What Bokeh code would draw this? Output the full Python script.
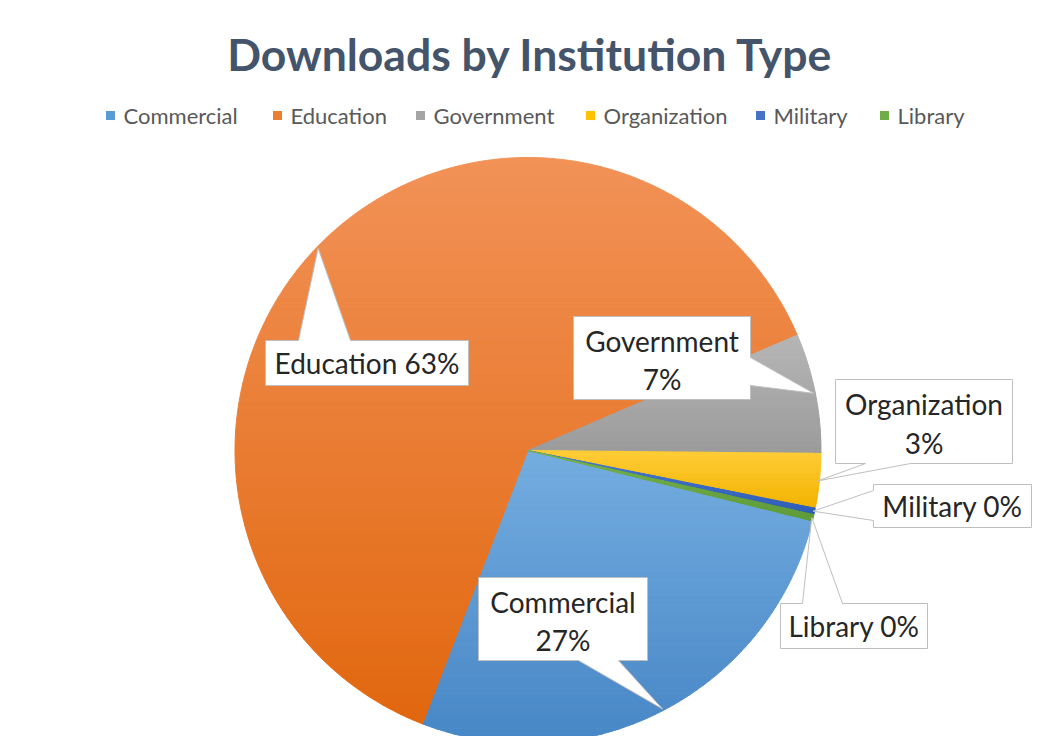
import numpy as np
from bokeh.plotting import figure
from bokeh.models import Range1d
from bokeh.core.properties import value
from bokeh.embed import file_html
from bokeh.resources import INLINE

# ---------------- data ----------------
categories = ["Commercial", "Education", "Government", "Organization", "Military", "Library"]
shares = [27.0, 62.7, 6.6, 3.0, 0.35, 0.35]
title_text = "Downloads by Institution Type"

# ---------------- styles ----------------
base_colors = ["#5B9BD5", "#ED7D31", "#A5A5A5", "#FFC000", "#4472C4", "#70AD47"]
top_colors = ["#74ADE0", "#F29257", "#B6B6B6", "#FFCD38", "#4A78CC", "#76B34C"]
bottom_colors = ["#4786C6", "#E1670F", "#9B9B9B", "#F2B300", "#2F5DB6", "#5E9A38"]

FONT = value("Lato")
PAGE_H = 740
FIG_W, FIG_H = 1036, 736


def Y(img_y):
    return PAGE_H - img_y


CX, CY, R = 527.5, Y(450), 293.0
START_DEG = -13.9  # first slice starts here and slices run clockwise

p = figure(width=FIG_W, height=FIG_H, x_range=Range1d(0, FIG_W),
           y_range=Range1d(PAGE_H - FIG_H, PAGE_H),
           output_backend="svg", toolbar_location=None, x_axis_type=None, y_axis_type=None,
           min_border=0, min_border_left=0, min_border_right=0, min_border_top=0,
           min_border_bottom=0)
p.grid.visible = False
p.outline_line_color = None
p.background_fill_color = "white"
p.border_fill_color = "white"


def clip(poly, y, keep_above):
    out = []
    n = len(poly)
    for i in range(n):
        P = poly[i]
        Q = poly[(i + 1) % n]
        inP = P[1] >= y if keep_above else P[1] <= y
        inQ = Q[1] >= y if keep_above else Q[1] <= y
        if inP:
            out.append(P)
        if inP != inQ:
            t = (y - P[1]) / (Q[1] - P[1])
            out.append((P[0] + t * (Q[0] - P[0]), y))
    return out


def mix(c1, c2, t):
    a = [int(c1[i:i + 2], 16) for i in (1, 3, 5)]
    b = [int(c2[i:i + 2], 16) for i in (1, 3, 5)]
    return "#%02x%02x%02x" % tuple(int(round(a[k] + (b[k] - a[k]) * t)) for k in range(3))


# ---------------- slices (gradient via horizontal bands) ----------------
band_xs, band_ys, band_cols = [], [], []
mid_angles = []
cum = 0.0
total = sum(shares)
for i, s in enumerate(shares):
    a0 = START_DEG - cum / total * 360.0
    a1 = a0 - s / total * 360.0
    cum += s
    mid_angles.append(np.deg2rad((a0 + a1) / 2))
    n = max(3, int(abs(a1 - a0) * 2))
    th = np.deg2rad(np.linspace(a0, a1, n))
    poly = [(CX, CY)] + [(CX + R * np.cos(t), CY + R * np.sin(t)) for t in th]
    ys_all = [q[1] for q in poly]
    ymin, ymax = min(ys_all), max(ys_all)
    nb = 60
    edges = np.linspace(ymax, ymin, nb + 1)
    for k in range(nb):
        hi, lo = edges[k], edges[k + 1]
        pc = clip(poly, lo, True)
        if len(pc) < 3:
            continue
        pc = clip(pc, hi, False)
        if len(pc) < 3:
            continue
        band_xs.append([q[0] for q in pc])
        band_ys.append([q[1] for q in pc])
        band_cols.append(mix(top_colors[i], bottom_colors[i], (k + 0.5) / nb))

p.patches(band_xs, band_ys, fill_color=band_cols, line_color=band_cols, line_width=1)

# ---------------- title ----------------
p.text(x=[530], y=[Y(53)], text=[title_text], text_font=FONT, text_font_style="bold",
       text_font_size="44.5px", text_color="#44546A", text_align="center",
       text_baseline="middle")

# ---------------- legend ----------------
legend_x = [110, 277, 420, 590, 760, 884]
legend_y = Y(115)
p.rect(x=legend_x, y=[legend_y] * 6, width=9, height=9, fill_color=base_colors,
       line_color=None)
p.text(x=[x + 13 for x in legend_x], y=[legend_y] * 6, text=categories, text_font=FONT,
       text_font_size="22px", text_color="#595959", text_align="left",
       text_baseline="middle")

# ---------------- data labels (callouts) ----------------
# box: (left, top, right, bottom) in page pixels; pointer: (edge, from, to); two_line flag
label_layout = {
    "Education": ((265, 340, 468, 385), ("top", 298, 350), False),
    "Government": ((573, 316, 750, 399), ("right", 357, 385), True),
    "Commercial": ((478, 577, 647, 660), ("bottom", 578, 618), True),
    "Organization": ((835, 379, 1012, 463), ("bottom", 865, 910), True),
    "Military": ((873, 484, 1031, 527), ("left", 490, 520), False),
    "Library": ((780, 603, 927, 648), ("top", 802, 842), False),
}

for i, cat in enumerate(categories):
    (l, t, r, b), (edge, s0, s1), two = label_layout[cat]
    ang = mid_angles[i]
    ax, ay = CX + R * 0.995 * np.cos(ang), CY + R * 0.995 * np.sin(ang)
    lt, rt, rb, lb = (l, Y(t)), (r, Y(t)), (r, Y(b)), (l, Y(b))
    apex = (ax, ay)
    if edge == "top":
        pts = [lt, (s0, Y(t)), apex, (s1, Y(t)), rt, rb, lb]
    elif edge == "right":
        pts = [lt, rt, (r, Y(s0)), apex, (r, Y(s1)), rb, lb]
    elif edge == "bottom":
        pts = [lt, rt, rb, (s1, Y(b)), apex, (s0, Y(b)), lb]
    else:
        pts = [lt, rt, rb, lb, (l, Y(s1)), apex, (l, Y(s0))]
    p.patch([q[0] for q in pts], [q[1] for q in pts], fill_color="white",
            line_color="#BFBFBF", line_width=1)
    pct = "%d%%" % int(round(shares[i] / total * 100))
    cxl = (l + r) / 2
    if two:
        h = b - t
        p.text(x=[cxl, cxl], y=[Y(t + h * 0.29), Y(t + h * 0.75)], text=[cat, pct],
               text_font=FONT, text_font_size="28px", text_color="#262626",
               text_align="center", text_baseline="middle")
    else:
        p.text(x=[cxl], y=[Y((t + b) / 2)], text=[cat + " " + pct], text_font=FONT,
               text_font_size="28px", text_color="#262626", text_align="center",
               text_baseline="middle")

open("out.html", "w").write(file_html(p, INLINE))
